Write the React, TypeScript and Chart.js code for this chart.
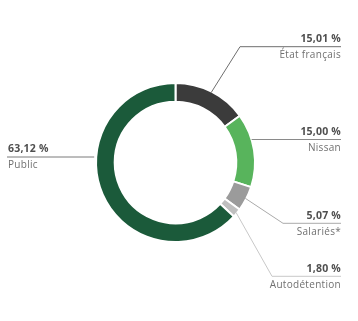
import React, { useEffect, useRef } from "react";
import { Chart, registerables } from "chart.js";

Chart.register(...registerables);

const categories = ["État français", "Nissan", "Salariés*", "Autodétention", "Public"];
const shares = [15.01, 15.0, 5.07, 1.8, 63.12];
const colors = ["#3b3b3b", "#58b45c", "#9b9b9b", "#bfbfbf", "#1b5a3a"];

// layout of callouts (line y, side, elbow x or null for a straight line)
const calloutLineY = [46.7, 139.5, 223.3, 276.3, 157];
const calloutSide = ["right", "right", "right", "right", "left"];
const calloutElbowX: (number | null)[] = [240, null, 283, 272, null];
const calloutLineColor = ["#6e6e6e", "#8a8a8a", "#aaaaaa", "#c8c8c8", "#7a7a7a"];

const FONT = "'Open Sans', Lato, sans-serif";

const fmt = (v: number) => v.toFixed(2).replace(".", ",") + " %";

const calloutPlugin = {
  id: "callouts",
  afterDraw(chart: any) {
    const ctx = chart.ctx;
    const meta = chart.getDatasetMeta(0);
    const rightX = 341;
    const leftX = 7;
    ctx.save();
    meta.data.forEach((arc: any, i: number) => {
      const p = arc.getProps(["x", "y", "startAngle", "endAngle", "outerRadius"], true);
      const mid = (p.startAngle + p.endAngle) / 2;
      const ly = calloutLineY[i];
      const side = calloutSide[i];
      ctx.strokeStyle = calloutLineColor[i];
      ctx.lineWidth = 1;
      ctx.beginPath();
      const elbow = calloutElbowX[i];
      if (elbow !== null) {
        const sx = p.x + Math.cos(mid) * (p.outerRadius - 1);
        const sy = p.y + Math.sin(mid) * (p.outerRadius - 1);
        ctx.moveTo(sx, sy);
        ctx.lineTo(elbow, ly);
        ctx.lineTo(side === "right" ? rightX : leftX, ly);
      } else {
        const dy = ly - p.y;
        const dx = Math.sqrt(Math.max(p.outerRadius * p.outerRadius - dy * dy, 0));
        const sx = side === "right" ? p.x + dx : p.x - dx - 2;
        ctx.moveTo(sx, ly);
        ctx.lineTo(side === "right" ? rightX : leftX, ly);
      }
      ctx.stroke();

      ctx.textAlign = side === "right" ? "right" : "left";
      ctx.textBaseline = "middle";
      const tx = side === "right" ? rightX : leftX + 1;
      ctx.fillStyle = "#4f4f4f";
      ctx.font = `bold 10.5px ${FONT}`;
      (ctx as any).letterSpacing = "0.2px";
      ctx.fillText(fmt(shares[i]), tx, ly - 7.5);
      ctx.fillStyle = "#707070";
      ctx.font = `10px ${FONT}`;
      (ctx as any).letterSpacing = "0.3px";
      ctx.fillText(categories[i], tx, ly + 8.5);
      (ctx as any).letterSpacing = "0px";
    });
    ctx.restore();
  },
};

export default function App() {
  const ref = useRef<HTMLCanvasElement>(null);
  useEffect(() => {
    document.body.style.margin = "0";
    const chart = new Chart(ref.current!, {
      type: "doughnut",
      data: {
        labels: categories,
        datasets: [
          {
            data: shares,
            backgroundColor: colors,
            borderColor: "#ffffff",
            borderWidth: 2,
          },
        ],
      },
      options: {
        responsive: false,
        animation: false,
        cutout: "76.5%",
        layout: { padding: { left: 95, right: 102, top: 82, bottom: 78 } },
        plugins: { legend: { display: false }, tooltip: { enabled: false } },
      },
      plugins: [calloutPlugin],
    });
    return () => chart.destroy();
  }, []);
  return (
    <div style={{ width: 358, height: 321, background: "#fff" }}>
      <canvas ref={ref} width={358} height={321} />
    </div>
  );
}
